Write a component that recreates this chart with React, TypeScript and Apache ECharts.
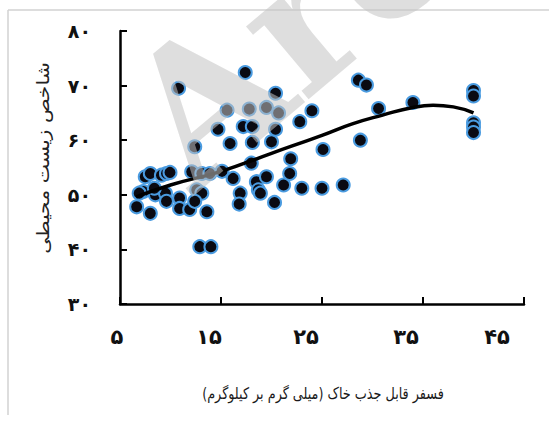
import React, { useEffect, useRef } from 'react';
import * as echarts from 'echarts';

const pointX = [
  6.65, 8.0, 7.5, 8.0, 9.1, 9.6, 9.95, 7.3, 8.5, 9.5, 9.6, 10.9, 10.9, 11.9, 12.1, 13.1, 13.9,
  12.6, 13.1, 12.4, 13.6, 12.4, 10.8, 12.9, 14.0, 15.1, 16.2, 14.7, 15.6, 17.4, 15.9, 16.9, 16.8,
  17.2, 18.1, 17.8, 18.1, 18.0, 18.5, 18.7, 18.9, 19.5, 20.0, 19.5, 20.4, 20.7, 20.4, 20.3, 21.2,
  21.8, 21.9, 22.8, 24.0, 23.0, 25.1, 25.0, 27.1, 28.6, 29.4, 28.8, 30.6, 34.0, 40.0, 40.0, 40.0,
  40.0, 40.0, 6.9, 8.4,
];
const pointY = [
  47.8, 46.6, 53.3, 53.9, 53.6, 53.9, 54.1, 50.6, 50.0, 50.3, 48.8, 49.4, 47.5, 47.3, 54.2, 53.9, 53.9,
  50.9, 50.3, 48.8, 46.9, 58.8, 69.5, 40.5, 40.5, 54.3, 53.0, 62.0, 65.5, 72.4, 59.4, 50.3, 48.3,
  62.5, 62.5, 65.7, 59.6, 55.8, 52.4, 50.9, 50.3, 66.0, 59.7, 53.3, 68.6, 65.0, 62.0, 48.6, 51.8,
  53.9, 56.6, 63.4, 65.4, 51.2, 58.3, 51.2, 51.8, 71.0, 70.1, 60.0, 65.8, 66.9, 69.1, 68.1, 63.2,
  62.4, 61.4, 50.3, 51.2,
];

const trendX = [6.6, 10, 15, 20, 25, 28, 31, 34, 36, 38, 40];
const trendY = [49.6, 51.8, 54.3, 57.6, 60.9, 63.0, 64.6, 66.0, 66.4, 66.1, 65.0];

const xTickValues = [5, 15, 25, 35, 45];
const xTickLabels = ['۵', '۱۵', '۲۵', '۳۵', '۴۵'];
const yTickValues = [30, 40, 50, 60, 70, 80];
const yTickLabels = ['۳۰', '۴۰', '۵۰', '۶۰', '۷۰', '۸۰'];

const xTitle = 'فسفر قابل جذب خاک (میلی گرم بر کیلوگرم)\u200F';
const yTitle = 'شاخص زیست محیطی';
const watermark = 'Arc';

export default function App() {
  const ref = useRef<HTMLDivElement>(null);
  useEffect(() => {
    const chart = echarts.init(ref.current!, null, { renderer: 'svg' });
    const xShift = [6, 24, 32, 34, 54];
    const rich: any = {};
    xShift.forEach((p, i) => {
      rich['r' + i] = {
        fontSize: 21,
        fontWeight: 'bold',
        fontFamily: 'DejaVu Sans',
        color: '#111',
        padding: [0, p, 0, 0],
      };
    });
    chart.setOption({
      animation: false,
      backgroundColor: '#fff',
      grid: { left: 120, top: 31, right: 25, bottom: 117 },
      xAxis: {
        type: 'value',
        min: 5,
        max: 45,
        interval: 10,
        axisLine: { show: true, lineStyle: { color: '#000', width: 2.5 } },
        axisTick: { show: true, inside: true, length: 7, lineStyle: { color: '#000', width: 2 } },
        splitLine: { show: false },
        axisLabel: {
          margin: 22,
          formatter: (v: number) => {
            const i = xTickValues.indexOf(v);
            return i >= 0 ? `{r${i}|${xTickLabels[i]}}` : '';
          },
          rich,
        },
      },
      yAxis: {
        type: 'value',
        min: 30,
        max: 80,
        interval: 10,
        axisLine: { show: true, lineStyle: { color: '#000', width: 2.5 } },
        axisTick: { show: true, inside: true, length: 7, lineStyle: { color: '#000', width: 2 } },
        splitLine: { show: false },
        axisLabel: {
          margin: 29,
          fontSize: 19,
          fontWeight: 'bold',
          fontFamily: 'DejaVu Sans',
          color: '#111',
          formatter: (v: number) => {
            const i = yTickValues.indexOf(v);
            return i >= 0 ? yTickLabels[i] : '';
          },
        },
      },
      series: [
        {
          type: 'scatter',
          data: pointX.map((x, i) => [x, pointY[i]]),
          symbolSize: 13,
          itemStyle: { color: '#0a0a12', borderColor: '#4a9be0', borderWidth: 2, opacity: 1 },
          z: 2,
        },
        {
          type: 'line',
          data: trendX.map((x, i) => [x, trendY[i]]),
          smooth: 0.5,
          showSymbol: false,
          symbol: 'none',
          lineStyle: { color: '#000', width: 3.5 },
          z: 3,
        },
      ],
      graphic: [
        { type: 'line', shape: { x1: 8, y1: 10, x2: 549, y2: 10 }, style: { stroke: '#d2d2d2', lineWidth: 1.5 } },
        { type: 'line', shape: { x1: 8, y1: 10, x2: 8, y2: 415 }, style: { stroke: '#d2d2d2', lineWidth: 1.5 } },
        {
          type: 'text',
          x: 43,
          y: 158,
          rotation: Math.PI / 2,
          scaleX: 1.2,
          style: {
            text: yTitle,
            font: '17px "DejaVu Sans"',
            fill: '#222',
            textAlign: 'center',
            textVerticalAlign: 'middle',
            align: 'center',
            verticalAlign: 'middle',
          },
        },
        {
          type: 'text',
          x: 323,
          y: 393,
          scaleX: 0.8,
          style: {
            text: xTitle,
            font: '16px "DejaVu Sans"',
            fill: '#1a1a1a',
            textAlign: 'center',
            textVerticalAlign: 'middle',
            align: 'center',
            verticalAlign: 'middle',
          },
        },
        {
          type: 'text',
          x: 152,
          y: 146,
          rotation: 0.7,
          z: 100,
          style: {
            text: watermark,
            font: 'bold 185px "DejaVu Serif"',
            fill: 'rgba(195,195,195,0.55)',
            textAlign: 'left',
            textVerticalAlign: 'middle',
            align: 'left',
            verticalAlign: 'middle',
          },
        },
      ],
    });
    return () => chart.dispose();
  }, []);
  return (
    <div
      ref={ref}
      style={{ position: 'fixed', left: 0, top: 0, width: 549, height: 421, background: '#fff' }}
    />
  );
}
